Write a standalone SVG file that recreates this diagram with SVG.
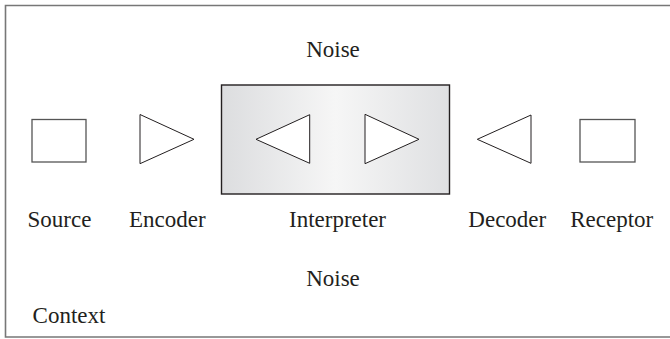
<svg xmlns="http://www.w3.org/2000/svg" width="670" height="339" viewBox="0 0 670 339">
<defs>
<linearGradient id="g" x1="0" y1="0" x2="1" y2="0">
<stop offset="0" stop-color="#dcdddf"/>
<stop offset="0.5" stop-color="#f6f6f6"/>
<stop offset="1" stop-color="#dfe0e2"/>
</linearGradient>
<style>
text{font-family:"Liberation Serif","Times New Roman",serif;font-size:23px;fill:#231f20;text-anchor:middle}
.tri{fill:#fff;stroke:#231f20;stroke-width:1}
.box{fill:#fff;stroke:#555;stroke-width:1.3}
</style>
</defs>
<rect width="670" height="339" fill="#fff"/>
<g id="context">
<path d="M670,5.5 H5.5 V337 H670" fill="none" stroke="#777" stroke-width="1.6"/>
<text x="69" y="323">Context</text>
</g>
<g id="noise-top"><text x="333" y="56.5">Noise</text></g>
<g id="noise-bottom"><text x="333" y="286">Noise</text></g>
<g id="source">
<rect class="box" x="32" y="119.5" width="54" height="42.5"/>
<text x="59.5" y="227">Source</text>
</g>
<g id="encoder">
<polygon class="tri" points="140,114.5 194,139.3 140,163.7"/>
<text x="167.3" y="227">Encoder</text>
</g>
<g id="interpreter">
<rect x="221.5" y="85" width="228" height="109" fill="url(#g)" stroke="#231f20" stroke-width="1.4"/>
<polygon class="tri" points="309.7,114.7 256,139.3 309.7,163.3"/>
<polygon class="tri" points="365,114.3 419,139.3 365,163.7"/>
<text x="337.5" y="227">Interpreter</text>
</g>
<g id="decoder">
<polygon class="tri" points="531,115 477.3,139.3 531,163.3"/>
<text x="507.3" y="227">Decoder</text>
</g>
<g id="receptor">
<rect class="box" x="580" y="119.5" width="55" height="42.5"/>
<text x="611.7" y="227">Receptor</text>
</g>
<g id="connectors"></g>
</svg>
